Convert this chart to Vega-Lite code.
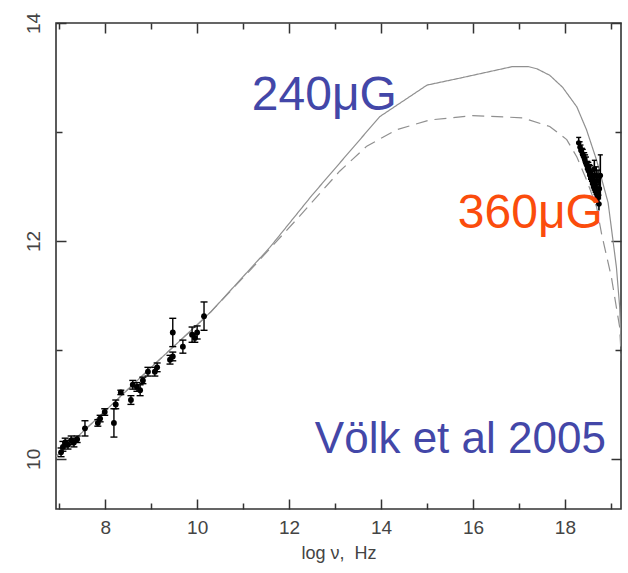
{
  "$schema": "https://vega.github.io/schema/vega-lite/v6.json",
  "width": 565,
  "height": 486,
  "autosize": "none",
  "padding": {"left": 56, "top": 23, "right": 7, "bottom": 64},
  "background": "white",
  "config": {
    "view": {"stroke": "#333333", "strokeWidth": 1.6},
    "axis": {
      "domain": false, "grid": false,
      "labelFont": "Liberation Sans", "labelFontSize": 19, "labelColor": "#444444",
      "tickColor": "#333333", "tickWidth": 1.5,
      "titleFont": "Liberation Sans", "titleFontSize": 18, "titleFontWeight": "normal", "titleColor": "#444444"
    }
  },
  "datasets": {
    "curves": [
      {"x": 6.93, "y": 10.02, "model": "240"}, {"x": 8.0, "y": 10.44, "model": "240"}, {"x": 9.0, "y": 10.84, "model": "240"},
      {"x": 10.0, "y": 11.23, "model": "240"}, {"x": 10.3, "y": 11.35, "model": "240"}, {"x": 11.58, "y": 11.94, "model": "240"},
      {"x": 12.5, "y": 12.42, "model": "240"}, {"x": 13.97, "y": 13.14, "model": "240"}, {"x": 15.0, "y": 13.43, "model": "240"},
      {"x": 15.78, "y": 13.5, "model": "240"}, {"x": 16.86, "y": 13.6, "model": "240"}, {"x": 17.2, "y": 13.6, "model": "240"},
      {"x": 17.39, "y": 13.58, "model": "240"}, {"x": 17.67, "y": 13.52, "model": "240"}, {"x": 17.95, "y": 13.41, "model": "240"},
      {"x": 18.26, "y": 13.23, "model": "240"}, {"x": 18.47, "y": 13.02, "model": "240"}, {"x": 18.69, "y": 12.74, "model": "240"},
      {"x": 18.94, "y": 12.35, "model": "240"}, {"x": 19.12, "y": 11.76, "model": "240"}, {"x": 19.19, "y": 11.4, "model": "240"},
      {"x": 19.22, "y": 11.1, "model": "240"},
      {"x": 6.93, "y": 10.02, "model": "360"}, {"x": 8.0, "y": 10.44, "model": "360"}, {"x": 9.0, "y": 10.84, "model": "360"},
      {"x": 10.0, "y": 11.23, "model": "360"}, {"x": 10.3, "y": 11.35, "model": "360"}, {"x": 11.15, "y": 11.73, "model": "360"},
      {"x": 12.17, "y": 12.2, "model": "360"}, {"x": 13.1, "y": 12.64, "model": "360"}, {"x": 13.69, "y": 12.87, "model": "360"},
      {"x": 14.34, "y": 13.02, "model": "360"}, {"x": 15.06, "y": 13.11, "model": "360"}, {"x": 15.99, "y": 13.15, "model": "360"},
      {"x": 17.08, "y": 13.13, "model": "360"}, {"x": 17.67, "y": 13.05, "model": "360"}, {"x": 18.04, "y": 12.93, "model": "360"},
      {"x": 18.26, "y": 12.77, "model": "360"}, {"x": 18.47, "y": 12.56, "model": "360"}, {"x": 18.69, "y": 12.31, "model": "360"},
      {"x": 18.8, "y": 12.06, "model": "360"}, {"x": 19.01, "y": 11.67, "model": "360"}, {"x": 19.19, "y": 11.21, "model": "360"},
      {"x": 19.23, "y": 10.9, "model": "360"}
    ],
    "radio": [
      {"x": 7.04, "y": 10.06, "lo": 10.02, "hi": 10.10}, {"x": 7.08, "y": 10.11, "lo": 10.07, "hi": 10.16},
      {"x": 7.13, "y": 10.15, "lo": 10.11, "hi": 10.19}, {"x": 7.19, "y": 10.13, "lo": 10.09, "hi": 10.17},
      {"x": 7.26, "y": 10.17, "lo": 10.13, "hi": 10.21}, {"x": 7.32, "y": 10.15, "lo": 10.11, "hi": 10.19},
      {"x": 7.39, "y": 10.18, "lo": 10.15, "hi": 10.21}, {"x": 7.56, "y": 10.28, "lo": 10.21, "hi": 10.35},
      {"x": 7.84, "y": 10.33, "lo": 10.30, "hi": 10.36}, {"x": 7.89, "y": 10.37, "lo": 10.34, "hi": 10.40},
      {"x": 7.99, "y": 10.43, "lo": 10.40, "hi": 10.46}, {"x": 8.19, "y": 10.33, "lo": 10.20, "hi": 10.46},
      {"x": 8.23, "y": 10.50, "lo": 10.46, "hi": 10.54}, {"x": 8.34, "y": 10.61, "lo": 10.59, "hi": 10.63},
      {"x": 8.56, "y": 10.54, "lo": 10.50, "hi": 10.58}, {"x": 8.60, "y": 10.68, "lo": 10.64, "hi": 10.72},
      {"x": 8.69, "y": 10.66, "lo": 10.62, "hi": 10.70}, {"x": 8.76, "y": 10.63, "lo": 10.58, "hi": 10.68},
      {"x": 8.82, "y": 10.72, "lo": 10.69, "hi": 10.75}, {"x": 8.93, "y": 10.80, "lo": 10.76, "hi": 10.84},
      {"x": 9.08, "y": 10.80, "lo": 10.76, "hi": 10.84}, {"x": 9.13, "y": 10.84, "lo": 10.80, "hi": 10.88},
      {"x": 9.41, "y": 10.91, "lo": 10.87, "hi": 10.95}, {"x": 9.47, "y": 10.94, "lo": 10.90, "hi": 10.98},
      {"x": 9.47, "y": 11.16, "lo": 11.03, "hi": 11.29}, {"x": 9.69, "y": 11.03, "lo": 10.97, "hi": 11.09},
      {"x": 9.89, "y": 11.14, "lo": 11.07, "hi": 11.21}, {"x": 9.95, "y": 11.11, "lo": 11.07, "hi": 11.15},
      {"x": 10.00, "y": 11.16, "lo": 11.10, "hi": 11.22}, {"x": 10.15, "y": 11.31, "lo": 11.18, "hi": 11.44}
    ],
    "xray": [
      {"x": 18.30, "y": 12.90, "lo": 12.85, "hi": 12.95, "xlo": 18.25, "xhi": 18.35},
      {"x": 18.33, "y": 12.86, "lo": 12.81, "hi": 12.91, "xlo": 18.28, "xhi": 18.38},
      {"x": 18.35, "y": 12.83, "lo": 12.78, "hi": 12.88, "xlo": 18.30, "xhi": 18.40},
      {"x": 18.38, "y": 12.80, "lo": 12.75, "hi": 12.85, "xlo": 18.33, "xhi": 18.43},
      {"x": 18.40, "y": 12.78, "lo": 12.72, "hi": 12.84, "xlo": 18.35, "xhi": 18.45},
      {"x": 18.43, "y": 12.75, "lo": 12.69, "hi": 12.81, "xlo": 18.38, "xhi": 18.48},
      {"x": 18.45, "y": 12.72, "lo": 12.65, "hi": 12.79, "xlo": 18.40, "xhi": 18.50},
      {"x": 18.47, "y": 12.70, "lo": 12.63, "hi": 12.77, "xlo": 18.42, "xhi": 18.52},
      {"x": 18.50, "y": 12.66, "lo": 12.59, "hi": 12.73, "xlo": 18.45, "xhi": 18.55},
      {"x": 18.52, "y": 12.64, "lo": 12.56, "hi": 12.72, "xlo": 18.47, "xhi": 18.57},
      {"x": 18.54, "y": 12.62, "lo": 12.54, "hi": 12.70, "xlo": 18.49, "xhi": 18.59},
      {"x": 18.56, "y": 12.60, "lo": 12.51, "hi": 12.69, "xlo": 18.51, "xhi": 18.61},
      {"x": 18.58, "y": 12.57, "lo": 12.48, "hi": 12.66, "xlo": 18.53, "xhi": 18.63},
      {"x": 18.60, "y": 12.55, "lo": 12.46, "hi": 12.64, "xlo": 18.55, "xhi": 18.65},
      {"x": 18.62, "y": 12.53, "lo": 12.44, "hi": 12.62, "xlo": 18.57, "xhi": 18.67},
      {"x": 18.64, "y": 12.51, "lo": 12.42, "hi": 12.60, "xlo": 18.59, "xhi": 18.69},
      {"x": 18.66, "y": 12.48, "lo": 12.39, "hi": 12.57, "xlo": 18.61, "xhi": 18.71},
      {"x": 18.68, "y": 12.46, "lo": 12.37, "hi": 12.55, "xlo": 18.63, "xhi": 18.73},
      {"x": 18.70, "y": 12.43, "lo": 12.34, "hi": 12.52, "xlo": 18.65, "xhi": 18.75},
      {"x": 18.72, "y": 12.40, "lo": 12.32, "hi": 12.48, "xlo": 18.67, "xhi": 18.77},
      {"x": 18.74, "y": 12.34, "lo": 12.28, "hi": 12.42, "xlo": 18.69, "xhi": 18.79},
      {"x": 18.77, "y": 12.60, "lo": 12.38, "hi": 12.79, "xlo": 18.73, "xhi": 18.81},
      {"x": 18.72, "y": 12.55, "lo": 12.45, "hi": 12.65, "xlo": 18.67, "xhi": 18.77},
      {"x": 18.68, "y": 12.60, "lo": 12.52, "hi": 12.68, "xlo": 18.63, "xhi": 18.73},
      {"x": 18.64, "y": 12.66, "lo": 12.58, "hi": 12.74, "xlo": 18.59, "xhi": 18.69},
      {"x": 18.75, "y": 12.48, "lo": 12.38, "hi": 12.58, "xlo": 18.70, "xhi": 18.80}
    ],
    "fields": [
      {"x": 11.19, "y": 13.2, "text": "240μG", "series": "240"},
      {"x": 15.67, "y": 12.12, "text": "360μG", "series": "360"}
    ],
    "ref": [
      {"x": 12.56, "y": 10.055, "text": "Völk et al 2005"}
    ]
  },
  "layer": [
    {
      "data": {"name": "curves"},
      "mark": {"type": "line", "clip": true, "color": "#909090", "strokeWidth": 1.2},
      "encoding": {
        "x": {"field": "x", "type": "quantitative", "scale": {"domain": [6.93, 19.22], "nice": false, "zero": false},
          "axis": {"orient": "bottom", "values": [7, 8, 9, 10, 11, 12, 13, 14, 15, 16, 17, 18, 19],
            "tickSize": {"condition": {"test": "datum.value % 2 == 0", "value": -10}, "value": -6},
            "labelExpr": "datum.value % 2 == 0 ? datum.label : ''",
            "labelPadding": 19, "labelBaseline": "top", "title": "log ν,\u00a0\u00a0Hz", "titlePadding": 7}},
        "y": {"field": "y", "type": "quantitative", "scale": {"domain": [9.54, 14], "nice": false, "zero": false},
          "axis": {"orient": "left", "values": [10, 11, 12, 13, 14],
            "tickSize": {"condition": {"test": "datum.value % 2 == 0", "value": -10}, "value": -6},
            "labelExpr": "datum.value % 2 == 0 ? datum.label : ''",
            "labelAngle": -90, "labelAlign": "center", "labelBaseline": "bottom", "labelPadding": 23, "title": null}},
        "detail": {"field": "model"},
        "strokeDash": {"field": "model", "type": "nominal", "scale": {"domain": ["240", "360"], "range": [[1, 0], [12, 7]]}, "legend": null}
      }
    },
    {
      "data": {"name": "radio"},
      "mark": {"type": "rule", "color": "black", "strokeWidth": 1.4},
      "encoding": {
        "x": {"field": "x", "type": "quantitative", "axis": null},
        "y": {"field": "lo", "type": "quantitative", "axis": null},
        "y2": {"field": "hi"}
      }
    },
    {
      "data": {"name": "radio"},
      "mark": {"type": "tick", "orient": "horizontal", "color": "black", "size": 7, "thickness": 1.4, "opacity": 1},
      "encoding": {
        "x": {"field": "x", "type": "quantitative", "axis": null},
        "y": {"field": "lo", "type": "quantitative", "axis": null}
      }
    },
    {
      "data": {"name": "radio"},
      "mark": {"type": "tick", "orient": "horizontal", "color": "black", "size": 7, "thickness": 1.4, "opacity": 1},
      "encoding": {
        "x": {"field": "x", "type": "quantitative", "axis": null},
        "y": {"field": "hi", "type": "quantitative", "axis": null}
      }
    },
    {
      "data": {"name": "radio"},
      "mark": {"type": "circle", "color": "black", "size": 34, "opacity": 1},
      "encoding": {
        "x": {"field": "x", "type": "quantitative", "axis": null},
        "y": {"field": "y", "type": "quantitative", "axis": null}
      }
    },
    {
      "data": {"name": "xray"},
      "mark": {"type": "rule", "color": "black", "strokeWidth": 1.6},
      "encoding": {
        "x": {"field": "x", "type": "quantitative", "axis": null},
        "y": {"field": "lo", "type": "quantitative", "axis": null},
        "y2": {"field": "hi"}
      }
    },
    {
      "data": {"name": "xray"},
      "mark": {"type": "tick", "orient": "horizontal", "color": "black", "size": 5, "thickness": 1.4, "opacity": 1},
      "encoding": {
        "x": {"field": "x", "type": "quantitative", "axis": null},
        "y": {"field": "hi", "type": "quantitative", "axis": null}
      }
    },
    {
      "data": {"name": "xray"},
      "mark": {"type": "rule", "color": "black", "strokeWidth": 2},
      "encoding": {
        "x": {"field": "xlo", "type": "quantitative", "axis": null},
        "x2": {"field": "xhi"},
        "y": {"field": "y", "type": "quantitative", "axis": null}
      }
    },
    {
      "data": {"name": "xray"},
      "mark": {"type": "circle", "color": "black", "size": 30, "opacity": 1},
      "encoding": {
        "x": {"field": "x", "type": "quantitative", "axis": null},
        "y": {"field": "y", "type": "quantitative", "axis": null}
      }
    },
    {
      "data": {"name": "fields"},
      "mark": {"type": "text", "font": "Liberation Sans", "fontSize": 48, "align": "left", "baseline": "alphabetic"},
      "encoding": {
        "x": {"field": "x", "type": "quantitative", "axis": null},
        "y": {"field": "y", "type": "quantitative", "axis": null},
        "text": {"field": "text"},
        "color": {"field": "series", "type": "nominal", "scale": {"domain": ["240", "360"], "range": ["#4347a8", "#fb4c0c"]}, "legend": null}
      }
    },
    {
      "data": {"name": "ref"},
      "mark": {"type": "text", "font": "Liberation Sans", "fontSize": 44, "align": "left", "baseline": "alphabetic", "color": "#4347a8"},
      "encoding": {
        "x": {"field": "x", "type": "quantitative",
          "axis": {"orient": "top", "values": [7, 8, 9, 10, 11, 12, 13, 14, 15, 16, 17, 18, 19],
            "tickSize": {"condition": {"test": "datum.value % 2 == 0", "value": -10}, "value": -6},
            "labels": false, "title": null}},
        "y": {"field": "y", "type": "quantitative",
          "axis": {"orient": "right", "values": [10, 11, 12, 13, 14],
            "tickSize": {"condition": {"test": "datum.value % 2 == 0", "value": -10}, "value": -6},
            "labels": false, "title": null}},
        "text": {"field": "text"}
      }
    }
  ],
  "resolve": {"axis": {"x": "independent", "y": "independent"}}
}
